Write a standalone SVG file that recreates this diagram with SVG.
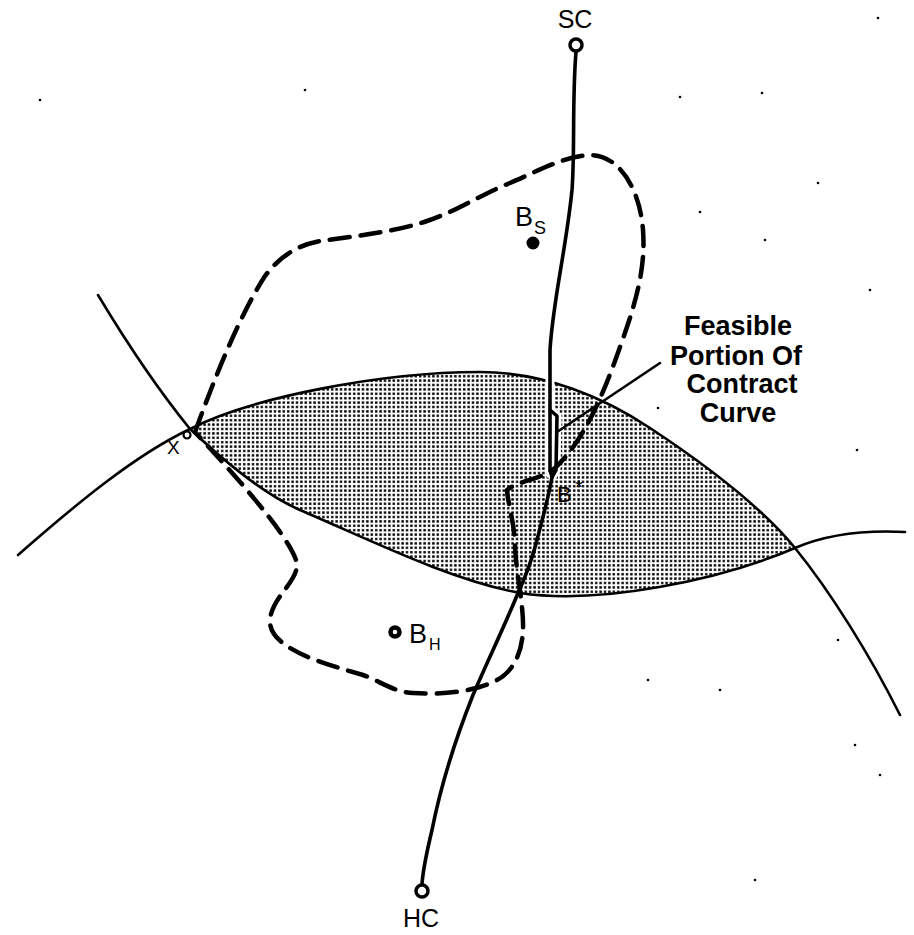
<svg xmlns="http://www.w3.org/2000/svg" width="914" height="935" viewBox="0 0 914 935">
<style>
text{font-family:"Liberation Sans",Arial,sans-serif;fill:#000}
.arc{fill:none;stroke:#000;stroke-width:2.6;stroke-linecap:round}
.main{fill:none;stroke:#000;stroke-width:3.6;stroke-linecap:round;stroke-linejoin:round}
.dash{fill:none;stroke:#000;stroke-width:4.5;stroke-dasharray:20 11;stroke-linecap:round;stroke-linejoin:round}
.pt{fill:#fff;stroke:#000;stroke-width:3.5}
.lbl{font-size:25px}
.big{font-size:27px;font-weight:bold}
.sub{font-size:18px}
.speck{fill:#000}
</style>
<defs>
<pattern id="dots" width="4.4" height="4.4" patternUnits="userSpaceOnUse">
<rect width="4.4" height="4.4" fill="#fff"/>
<rect x="1" y="1" width="2.4" height="2.4" fill="#000"/>
</pattern>
</defs>
<rect width="914" height="935" fill="#fff"/>
<g id="lens">
<path d="M190,429 C250,398 380,372 480,372 C545,372 605,398 650,428 C700,461 760,505 795,548 C720,580 600,605 520,593 C450,580 370,540 300,510 C265,495 225,462 190,429 Z" fill="url(#dots)" stroke="none"/>
</g>
<g id="indifference-curves">
<path class="arc" d="M18,555 C75,505 135,455 190,429 C250,398 380,372 480,372 C545,372 605,398 650,428 C700,461 760,505 795,548 C830,591 870,655 900,715"/>
<path class="arc" d="M98,295 C125,340 160,392 190,429 C225,462 265,495 300,510 C370,540 450,580 520,593 C600,605 720,580 795,548 C825,535 865,530 905,532"/>
</g>
<g id="connectors">
<path d="M550,410 L557,416 L556,470 L552,477" fill="none" stroke="#fff" stroke-width="9"/>
<path d="M550,350 L550,470 L552,477" fill="none" stroke="#fff" stroke-width="9"/>
<path id="contract-curve" class="main" d="M576,52 C572,100 575,150 572,190 C566,250 553,300 550,350 L550,470 L552,477 C548,500 542,520 537,540 C532,560 524,580 518,593 C505,625 488,660 473,695 C455,740 440,790 432,830 C426,855 423,870 422,884"/>
<path class="main" d="M550,410 L557,416 L556,470 L552,477"/>
<path id="boundary" class="dash" d="M195,432 C212,385 238,318 265,276 C280,256 298,245 320,241 C355,236 395,232 427,221 C455,212 480,195 510,183 C540,170 565,156 590,155 C620,155 640,190 643,230 C646,270 635,305 620,347 C605,390 585,440 555,468 C540,480 520,480 507,490 C508,505 514,520 515,545 C516,575 524,605 523,630 C522,655 512,672 497,680 C475,692 440,695 413,693 C393,692 378,680 363,675 C330,665 268,650 270,620 C272,595 302,580 296,560 C285,530 230,470 195,432 Z"/>
<line id="leader" x1="660" y1="363" x2="557" y2="432" stroke="#000" stroke-width="2.6" stroke-linecap="round"/>
</g>
<g id="point-SC">
<circle class="pt" cx="576" cy="45" r="6"/>
<text class="lbl" x="575" y="28" text-anchor="middle">SC</text>
</g>
<g id="point-HC">
<circle class="pt" cx="422" cy="891" r="6"/>
<text class="lbl" x="421" y="927" text-anchor="middle">HC</text>
</g>
<g id="point-BS">
<circle cx="533" cy="243" r="5.5" fill="#000" stroke="#000" stroke-width="2"/>
<text class="lbl" x="515" y="226" style="font-size:27px">B</text>
<text class="sub" x="534" y="234">S</text>
</g>
<g id="point-BH">
<circle cx="395" cy="632" r="4.5" fill="#fff" stroke="#000" stroke-width="4.5"/>
<text class="lbl" x="409" y="643" style="font-size:27px">B</text>
<text class="sub" x="429" y="650" style="font-size:16px">H</text>
</g>
<g id="point-Bstar">
<text class="lbl" x="557" y="502" style="font-size:22px">B</text>
<text class="lbl" x="575" y="494" style="font-size:20px">*</text>
</g>
<g id="point-X">
<circle cx="187" cy="435" r="3.5" fill="#fff" stroke="#000" stroke-width="2.2"/>
<text class="lbl" x="167" y="454" style="font-size:19px">X</text>
</g>
<g id="label-feasible">
<text class="big" x="738" y="335" text-anchor="middle">Feasible</text>
<text class="big" x="736" y="365" text-anchor="middle">Portion Of</text>
<text class="big" x="742" y="393" text-anchor="middle">Contract</text>
<text class="big" x="738" y="422" text-anchor="middle">Curve</text>
</g>
<g id="specks" class="speck">
<circle cx="40" cy="100" r="1.3"/>
<circle cx="305" cy="90" r="1.3"/>
<circle cx="680" cy="97" r="1.3"/>
<circle cx="878" cy="18" r="1.3"/>
<circle cx="762" cy="93" r="1.3"/>
<circle cx="818" cy="183" r="1.3"/>
<circle cx="700" cy="212" r="1.3"/>
<circle cx="765" cy="240" r="1.3"/>
<circle cx="870" cy="290" r="1.3"/>
<circle cx="658" cy="408" r="1.3"/>
<circle cx="857" cy="450" r="1.3"/>
<circle cx="838" cy="640" r="1.3"/>
<circle cx="648" cy="680" r="1.3"/>
<circle cx="855" cy="745" r="1.3"/>
<circle cx="880" cy="775" r="1.3"/>
<circle cx="755" cy="880" r="1.3"/>
<circle cx="720" cy="690" r="1.3"/>
</g>
</svg>
